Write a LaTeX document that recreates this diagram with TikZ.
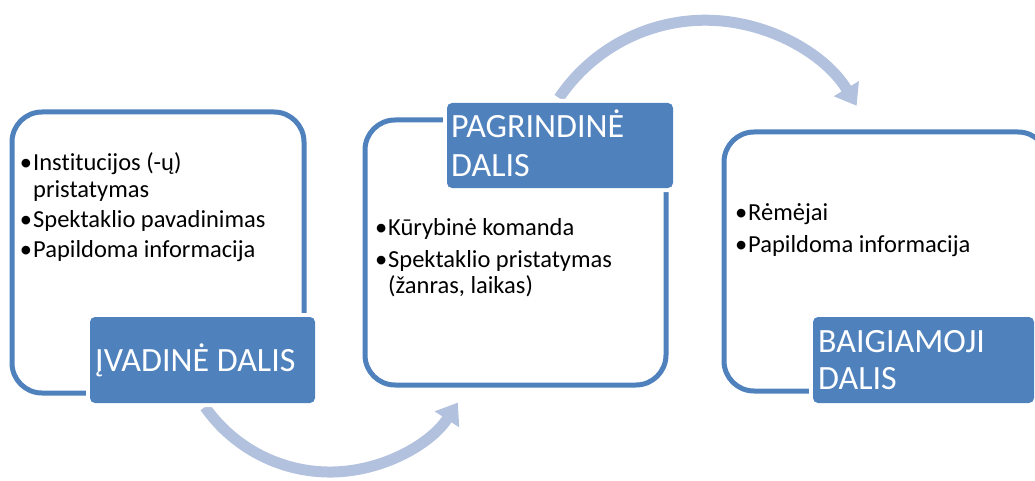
\documentclass[tikz,border=0pt]{standalone}
\usepackage{fontspec}
\setmainfont{Carlito}[Ligatures=NoCommon]
\usetikzlibrary{arrows.meta}
\definecolor{accent}{HTML}{4F81BD}
\definecolor{arrowc}{HTML}{B2C1DD}
\newcommand{\bul}{\llap{•\kern1pt}}
\tikzset{
  outline/.style={draw=accent, line width=5pt, rounded corners=30pt},
  labelbox/.style={fill=accent, rounded corners=5pt, preaction={draw=white, line width=8pt}},
  bullettext/.style={anchor=base west, inner sep=0pt, font=\fontsize{24.5}{27}\selectfont, text=black},
  labeltext/.style={anchor=base west, inner sep=0pt, font=\fontsize{34}{37.5}\selectfont, text=white},
  flowarrow/.style={draw=arrowc, line width=11pt, -{Triangle[width=28pt,length=20pt]}}
}
\begin{document}
\begin{tikzpicture}[x=1pt,y=-1pt]
\useasboundingbox (0,0) rectangle (1035,481);
\clip (0,0) rectangle (1035,481);
% outlines
\draw[outline] (12,112) rectangle (304,393);
\draw[outline] (365,120) rectangle (666,385);
\draw[outline] (724,132) rectangle (1048,391);
% arrows
\coordinate (a1s) at (205,407);
\coordinate (a2s) at (559,98);
\draw[flowarrow] (a1s) arc[start angle=145, end angle=33, radius=152.5];
\draw[flowarrow] (a2s) arc[start angle=214, end angle=329, radius=176.5];
% label boxes
\path[labelbox] (90,317) rectangle (315,403);
\path[labelbox] (447,103) rectangle (673,188);
\path[labelbox] (813,317) rectangle (1034,403);
% label texts
\node[labeltext] (l1) at (95,371) {ĮVADINĖ DALIS};
\node[labeltext] (l2a) at (451,137.5) {PAGRINDINĖ};
\node[labeltext] (l2b) at (451,176) {DALIS};
\node[labeltext] (l3a) at (818,352.5) {BAIGIAMOJI};
\node[labeltext] (l3b) at (818,389) {DALIS};
% box 1 texts
\node[bullettext] (t11) at (33,171) {\bul Institucijos (-ų)};
\node[bullettext] (t12) at (33,197.5) {pristatymas};
\node[bullettext] (t13) at (33,227.5) {\bul Spektaklio pavadinimas};
\node[bullettext] (t14) at (33,257.5) {\bul Papildoma informacija};
% box 2 texts
\node[bullettext] (t21) at (388,235.5) {\bul Kūrybinė komanda};
\node[bullettext] (t22) at (388,267) {\bul Spektaklio pristatymas};
\node[bullettext] (t23) at (388,293.7) {(žanras, laikas)};
% box 3 texts
\node[bullettext] (t31) at (748,220.5) {\bul Rėmėjai};
\node[bullettext] (t32) at (748,252) {\bul Papildoma informacija};
\end{tikzpicture}
\end{document}
